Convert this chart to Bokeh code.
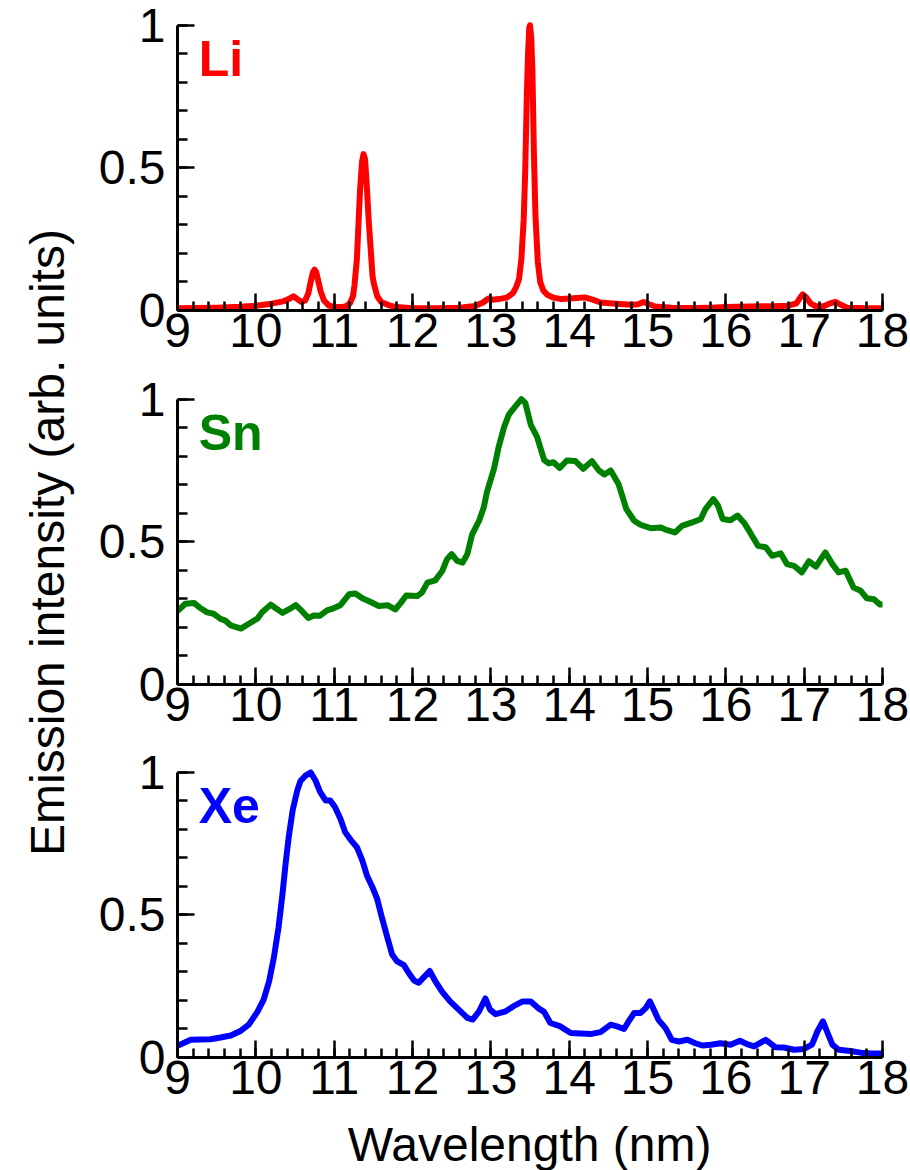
import math

from bokeh.plotting import figure
from bokeh.layouts import column, row
from bokeh.models import Range1d, FixedTicker, Label
from bokeh.embed import file_html
from bokeh.resources import INLINE

# ---- spectra (wavelength in nm, normalised intensity) ----
li_nm = [9.0, 9.5, 9.8, 10.0, 10.2, 10.35, 10.42, 10.48, 10.53, 10.58, 10.63, 10.67,
         10.70, 10.73, 10.75, 10.77, 10.80, 10.83, 10.87, 10.93, 11.0, 11.1, 11.15, 11.2,
         11.24, 11.26, 11.29, 11.31, 11.33, 11.355, 11.375, 11.395, 11.42, 11.44, 11.46,
         11.49, 11.51, 11.55, 11.6, 11.7, 11.8, 12.0, 12.3, 12.6, 12.8, 12.9, 12.97, 13.02,
         13.1, 13.2, 13.28, 13.32, 13.36, 13.39, 13.42, 13.44, 13.46, 13.475, 13.49, 13.50,
         13.515, 13.53, 13.55, 13.57, 13.60, 13.63, 13.67, 13.72, 13.8, 13.9, 14.0, 14.1,
         14.2, 14.3, 14.4, 14.6, 14.8, 14.88, 14.95, 15.02, 15.1, 15.3, 15.6, 15.8, 16.0,
         16.3, 16.6, 16.8, 16.9, 16.95, 16.98, 17.02, 17.08, 17.15, 17.25, 17.33, 17.4,
         17.47, 17.55, 17.8, 18.0]
li_int = [0.008, 0.010, 0.013, 0.017, 0.024, 0.032, 0.040, 0.050, 0.040, 0.030, 0.035, 0.060,
          0.100, 0.135, 0.143, 0.135, 0.100, 0.065, 0.035, 0.018, 0.012, 0.012, 0.015, 0.025,
          0.050, 0.090, 0.180, 0.300, 0.420, 0.520, 0.548, 0.530, 0.420, 0.320, 0.240,
          0.120, 0.090, 0.050, 0.030, 0.018, 0.012, 0.008, 0.008, 0.010, 0.016, 0.028, 0.042, 0.038,
          0.040, 0.045, 0.060, 0.080, 0.110, 0.180, 0.320, 0.500, 0.760, 0.900, 0.990, 1.000,
          0.960, 0.850, 0.550, 0.330, 0.170, 0.100, 0.070, 0.055, 0.045, 0.040, 0.042, 0.044,
          0.046, 0.038, 0.028, 0.024, 0.020, 0.022, 0.030, 0.022, 0.014, 0.010, 0.009, 0.010, 0.012,
          0.014, 0.015, 0.017, 0.025, 0.045, 0.056, 0.048, 0.025, 0.015, 0.015, 0.025, 0.030,
          0.020, 0.010, 0.008, 0.008]

sn_nm = [9.0, 9.1, 9.21, 9.29, 9.38, 9.46, 9.55, 9.61, 9.68, 9.81, 9.91, 10.02, 10.08, 10.19,
         10.25, 10.34, 10.42, 10.51, 10.59, 10.67, 10.74, 10.82, 10.91, 10.99, 11.08, 11.19,
         11.27, 11.36, 11.46, 11.57, 11.68, 11.78, 11.85, 11.92, 12.06, 12.12, 12.19, 12.29,
         12.38, 12.44, 12.50, 12.57, 12.64, 12.70, 12.76, 12.85, 12.91, 12.95, 13.04, 13.10,
         13.17, 13.23, 13.29, 13.39, 13.44, 13.51, 13.59, 13.68, 13.74, 13.80, 13.88, 13.97,
         14.08, 14.18, 14.29, 14.38, 14.45, 14.53, 14.63, 14.73, 14.83, 14.91, 15.04, 15.17,
         15.25, 15.35, 15.44, 15.57, 15.68, 15.74, 15.84, 15.90, 15.96, 16.06, 16.15, 16.23,
         16.31, 16.41, 16.51, 16.59, 16.70, 16.78, 16.87, 16.97, 17.06, 17.15, 17.27, 17.36,
         17.44, 17.53, 17.63, 17.72, 17.80, 17.89, 17.97, 18.0]
sn_int = [0.257, 0.283, 0.286, 0.268, 0.253, 0.248, 0.230, 0.224, 0.207, 0.196, 0.213, 0.231,
          0.253, 0.280, 0.268, 0.251, 0.263, 0.278, 0.257, 0.233, 0.242, 0.241, 0.260, 0.267,
          0.278, 0.316, 0.319, 0.302, 0.290, 0.275, 0.278, 0.263, 0.286, 0.312, 0.310, 0.322,
          0.357, 0.365, 0.398, 0.439, 0.457, 0.433, 0.427, 0.457, 0.525, 0.574, 0.621, 0.674,
          0.756, 0.833, 0.903, 0.946, 0.967, 1.000, 0.987, 0.910, 0.868, 0.787, 0.775, 0.779,
          0.759, 0.785, 0.783, 0.756, 0.783, 0.750, 0.736, 0.750, 0.703, 0.615, 0.574, 0.560,
          0.548, 0.550, 0.541, 0.533, 0.556, 0.568, 0.580, 0.615, 0.650, 0.627, 0.580, 0.576,
          0.592, 0.568, 0.533, 0.486, 0.481, 0.451, 0.460, 0.422, 0.416, 0.393, 0.432, 0.413,
          0.463, 0.422, 0.393, 0.399, 0.340, 0.329, 0.302, 0.299, 0.280, 0.280]

xe_nm = [9.0, 9.17, 9.42, 9.55, 9.68, 9.81, 9.91, 10.02, 10.10, 10.17, 10.23, 10.29, 10.34,
         10.38, 10.42, 10.47, 10.53, 10.57, 10.63, 10.70, 10.76, 10.82, 10.89, 10.95, 11.01,
         11.08, 11.14, 11.21, 11.29, 11.36, 11.42, 11.49, 11.55, 11.61, 11.68, 11.74, 11.80,
         11.89, 11.95, 12.02, 12.08, 12.14, 12.22, 12.29, 12.38, 12.48, 12.59, 12.70, 12.77,
         12.85, 12.93, 12.99, 13.06, 13.19, 13.29, 13.40, 13.51, 13.60, 13.68, 13.76, 13.88,
         14.02, 14.15, 14.27, 14.40, 14.53, 14.61, 14.70, 14.76, 14.83, 14.91, 14.98, 15.03,
         15.08, 15.14, 15.23, 15.31, 15.40, 15.51, 15.61, 15.70, 15.81, 15.93, 16.06, 16.18,
         16.29, 16.36, 16.51, 16.63, 16.74, 16.87, 17.00, 17.10, 17.17, 17.24, 17.29, 17.36,
         17.44, 17.59, 17.72, 17.85, 18.0]
xe_int = [0.041, 0.062, 0.064, 0.070, 0.077, 0.094, 0.115, 0.160, 0.203, 0.268, 0.350, 0.456,
          0.573, 0.679, 0.773, 0.866, 0.937, 0.969, 0.987, 0.999, 0.972, 0.931, 0.901, 0.901,
          0.878, 0.837, 0.790, 0.763, 0.737, 0.690, 0.637, 0.596, 0.555, 0.490, 0.420, 0.361,
          0.338, 0.324, 0.297, 0.270, 0.262, 0.280, 0.303, 0.268, 0.230, 0.197, 0.168, 0.139,
          0.133, 0.162, 0.207, 0.168, 0.152, 0.162, 0.180, 0.196, 0.196, 0.174, 0.160, 0.121,
          0.110, 0.086, 0.084, 0.082, 0.089, 0.115, 0.109, 0.100, 0.127, 0.156, 0.156, 0.174,
          0.197, 0.168, 0.132, 0.103, 0.062, 0.056, 0.062, 0.050, 0.042, 0.045, 0.050, 0.045,
          0.059, 0.045, 0.039, 0.062, 0.036, 0.035, 0.027, 0.030, 0.045, 0.092, 0.127, 0.092,
          0.045, 0.027, 0.023, 0.017, 0.014, 0.014]

x_major = [9, 10, 11, 12, 13, 14, 15, 16, 17, 18]
x_minor = [9 + 0.2 * i for i in range(46)]
y_major = [0, 0.5, 1]
y_minor = [0.1 * i for i in range(11)]
y_tick_text = {0: "0", 0.5: "0.5", 1: "1"}

x_title = "Wavelength (nm)"
y_title = "Emission intensity (arb. units)"

FONT = "Liberation Sans"
PAGE_H = 1170
STRIP_W = 75          # left column holding the shared y title
PANEL_W = 910 - STRIP_W
FOOT_H = 53           # bottom strip holding the shared x title


def panel(nm, inten, color, name, top, bottom):
    p = figure(frame_width=705, frame_height=291,
               min_border_left=177 - STRIP_W, min_border_right=28,
               min_border_top=top, min_border_bottom=bottom,
               x_range=Range1d(9, 18), y_range=Range1d(0, 1.02),
               output_backend="svg", toolbar_location=None, tools="")
    p.outline_line_color = None
    p.xgrid.visible = False
    p.ygrid.visible = False

    p.line(nm, inten, line_color=color, line_width=6,
           line_join="round", line_cap="round")

    xa = p.xaxis[0]
    xa.ticker = FixedTicker(ticks=x_major, minor_ticks=x_minor)
    xa.major_tick_in = 17
    xa.major_tick_out = 0
    xa.minor_tick_in = 9
    xa.minor_tick_out = 0
    xa.axis_line_width = 3
    xa.major_tick_line_width = 2.5
    xa.minor_tick_line_width = 2.5
    xa.major_label_text_font = FONT
    xa.major_label_text_font_size = "48px"
    xa.major_label_text_color = "black"
    xa.major_label_standoff = 3

    ya = p.yaxis[0]
    ya.ticker = FixedTicker(ticks=y_major, minor_ticks=y_minor)
    ya.bounds = (0, 1)
    ya.major_label_overrides = y_tick_text
    ya.major_tick_in = 17
    ya.major_tick_out = 0
    ya.minor_tick_in = 10
    ya.minor_tick_out = 0
    ya.axis_line_width = 3
    ya.major_tick_line_width = 2.5
    ya.minor_tick_line_width = 2.5
    ya.major_label_text_font = FONT
    ya.major_label_text_font_size = "48px"
    ya.major_label_text_color = "black"
    ya.major_label_standoff = 12

    # element tag in the upper-left corner
    p.add_layout(Label(x=9.27, y=0.88, text=name, text_color=color,
                       text_font=FONT, text_font_size="50px",
                       text_font_style="bold", text_baseline="middle"))
    return p


def text_strip(width, height):
    s = figure(width=width, height=height, min_border=0,
               x_range=Range1d(0, width), y_range=Range1d(0, height),
               x_axis_location=None, y_axis_location=None,
               output_backend="svg", toolbar_location=None, tools="")
    s.outline_line_color = None
    s.xgrid.visible = False
    s.ygrid.visible = False
    return s


p_li = panel(li_nm, li_int, "#ff0000", "Li", 19, 60)
p_sn = panel(sn_nm, sn_int, "#008000", "Sn", 23, 61)
p_xe = panel(xe_nm, xe_int, "#0000ff", "Xe", 21, PAGE_H - 745 - 21 - 291 - FOOT_H)

# shared x title under the bottom panel
foot = text_strip(PANEL_W, FOOT_H)
foot.add_layout(Label(x=417, y=FOOT_H - 27, text=x_title, text_color="black",
                      text_font=FONT, text_font_size="48px",
                      text_align="center", text_baseline="middle"))

# shared y title on the left
side = text_strip(STRIP_W, PAGE_H)
side.add_layout(Label(x=47, y=PAGE_H - 542, text=y_title, text_color="black",
                      text_font=FONT, text_font_size="48px", angle=math.pi / 2,
                      text_align="center", text_baseline="middle"))

layout = row(side, column(p_li, p_sn, p_xe, foot, spacing=0), spacing=0)

open("out.html", "w").write(file_html(layout, INLINE))
